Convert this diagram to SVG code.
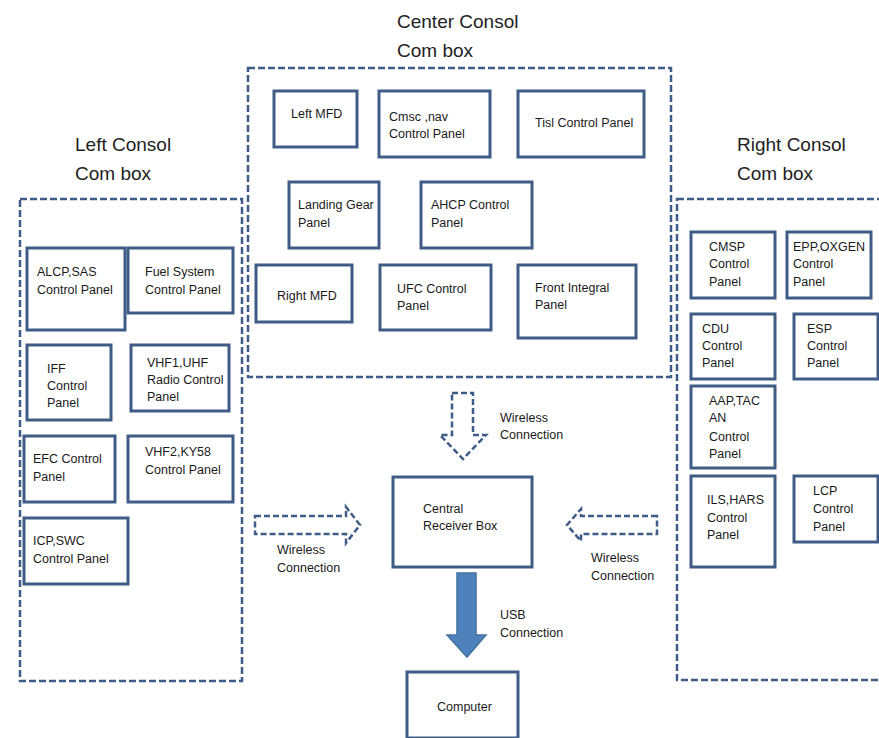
<svg xmlns="http://www.w3.org/2000/svg" width="879" height="738" viewBox="0 0 879 738">
<style>
text{font-family:"Liberation Sans",Arial,sans-serif;font-size:12.5px;fill:#1a1a1a}
.t{font-size:19px;fill:#222}
.b{fill:#fff;stroke:#3e5c86;stroke-width:3}
.d{fill:none;stroke:#3e5c86;stroke-width:2.5;stroke-dasharray:7,3}
.da{fill:#fff;stroke:#3e5c86;stroke-width:2.5;stroke-dasharray:6,3}
</style>
<rect width="879" height="738" fill="#fff"/>
<g id="titles">
<text class="t" x="397" y="28">Center Consol</text>
<text class="t" x="397" y="57">Com box</text>
<text class="t" x="75" y="151">Left Consol</text>
<text class="t" x="75" y="180">Com box</text>
<text class="t" x="737" y="151">Right Consol</text>
<text class="t" x="737" y="180">Com box</text>
</g>
<g id="center-consol">
<rect class="d" x="248" y="68" width="423" height="309"/>
</g>
<g id="left-consol">
<rect class="d" x="20" y="199" width="222" height="482"/>
</g>
<g id="right-consol">
<rect class="d" x="677" y="199" width="210" height="481"/>
</g>
<g id="left-mfd"><rect class="b" x="274" y="91" width="83" height="56"/><text x="291" y="118">Left MFD</text></g>
<g id="cmsc"><rect class="b" x="379" y="91" width="111" height="66"/><text x="389" y="121">Cmsc ,nav</text><text x="389" y="138">Control Panel</text></g>
<g id="tisl"><rect class="b" x="518" y="91" width="126" height="66"/><text x="535" y="127">Tisl Control Panel</text></g>
<g id="landing-gear"><rect class="b" x="289" y="182" width="90" height="66"/><text x="298" y="209">Landing Gear</text><text x="298" y="227">Panel</text></g>
<g id="ahcp"><rect class="b" x="421" y="182" width="111" height="66"/><text x="431" y="209">AHCP Control</text><text x="431" y="227">Panel</text></g>
<g id="right-mfd"><rect class="b" x="256" y="265" width="96" height="57"/><text x="277" y="300">Right MFD</text></g>
<g id="ufc"><rect class="b" x="380" y="265" width="111" height="65"/><text x="397" y="293">UFC Control</text><text x="397" y="310">Panel</text></g>
<g id="front-integral"><rect class="b" x="518" y="265" width="118" height="73"/><text x="535" y="292">Front Integral</text><text x="535" y="309">Panel</text></g>

<g id="alcp"><rect class="b" x="27" y="248" width="98" height="82"/><text x="37" y="276">ALCP,SAS</text><text x="37" y="294">Control Panel</text></g>
<g id="fuel"><rect class="b" x="128" y="248" width="105" height="65"/><text x="145" y="276">Fuel System</text><text x="145" y="294">Control Panel</text></g>
<g id="iff"><rect class="b" x="27" y="345" width="84" height="75"/><text x="47" y="373">IFF</text><text x="47" y="390">Control</text><text x="47" y="407">Panel</text></g>
<g id="vhf1"><rect class="b" x="131" y="345" width="98" height="66"/><text x="147" y="367">VHF1,UHF</text><text x="147" y="384">Radio Control</text><text x="147" y="401">Panel</text></g>
<g id="efc"><rect class="b" x="24" y="436" width="91" height="66"/><text x="33" y="463">EFC Control</text><text x="33" y="481">Panel</text></g>
<g id="vhf2"><rect class="b" x="128" y="436" width="105" height="66"/><text x="145" y="456">VHF2,KY58</text><text x="145" y="474">Control Panel</text></g>
<g id="icp"><rect class="b" x="24" y="518" width="104" height="66"/><text x="33" y="545">ICP,SWC</text><text x="33" y="563">Control Panel</text></g>

<g id="cmsp"><rect class="b" x="691" y="232" width="84" height="66"/><text x="709" y="251">CMSP</text><text x="709" y="268">Control</text><text x="709" y="286">Panel</text></g>
<g id="epp"><rect class="b" x="787" y="232" width="84" height="66"/><text x="793" y="251">EPP,OXGEN</text><text x="793" y="268">Control</text><text x="793" y="286">Panel</text></g>
<g id="cdu"><rect class="b" x="691" y="314" width="84" height="65"/><text x="702" y="333">CDU</text><text x="702" y="350">Control</text><text x="702" y="367">Panel</text></g>
<g id="esp"><rect class="b" x="794" y="314" width="84" height="65"/><text x="807" y="333">ESP</text><text x="807" y="350">Control</text><text x="807" y="367">Panel</text></g>
<g id="aap"><rect class="b" x="691" y="386" width="84" height="82"/><text x="709" y="405">AAP,TAC</text><text x="709" y="422">AN</text><text x="709" y="441">Control</text><text x="709" y="458">Panel</text></g>
<g id="ils"><rect class="b" x="691" y="476" width="84" height="91"/><text x="707" y="504">ILS,HARS</text><text x="707" y="522">Control</text><text x="707" y="539">Panel</text></g>
<g id="lcp"><rect class="b" x="794" y="476" width="84" height="66"/><text x="813" y="495">LCP</text><text x="813" y="513">Control</text><text x="813" y="531">Panel</text></g>

<g id="central-receiver"><rect class="b" x="393" y="477" width="139" height="90"/><text x="423" y="513">Central</text><text x="423" y="530">Receiver Box</text></g>
<g id="computer"><rect class="b" x="407" y="672" width="111" height="66"/><text x="437" y="711">Computer</text></g>

<g id="connectors">
<path class="da" d="M452,393 H473 V435 H486 L463,459 L440,435 H452 Z"/>
<path class="da" d="M255,516 H346 V507 L360,525 L346,543 V534 H255 Z"/>
<path class="da" d="M657,516 H581 V509 L567,525 L581,541 V534 H657 Z"/>
<path d="M457,573 H476 V635 H486 L467,657 L447,635 H457 Z" fill="#4f81bd" stroke="#41719c" stroke-width="1.5"/>
<text x="500" y="422">Wireless</text><text x="500" y="439">Connection</text>
<text x="277" y="554">Wireless</text><text x="277" y="572">Connection</text>
<text x="591" y="562">Wireless</text><text x="591" y="580">Connection</text>
<text x="500" y="619">USB</text><text x="500" y="637">Connection</text>
</g>
</svg>
